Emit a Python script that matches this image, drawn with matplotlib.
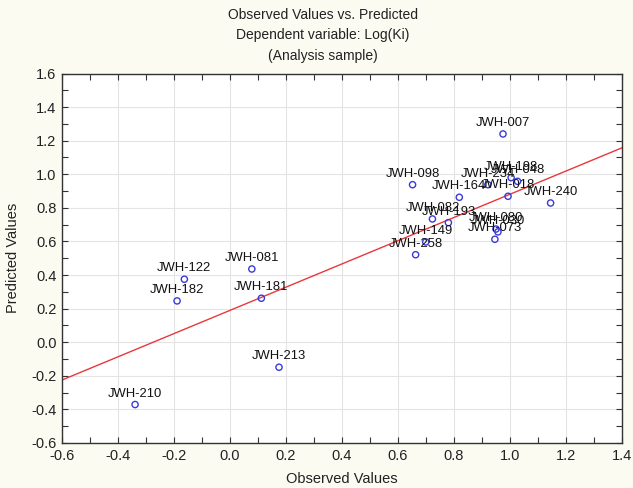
import numpy as np
import matplotlib
matplotlib.use("Agg")
import matplotlib.pyplot as plt
from matplotlib.ticker import MultipleLocator

# Compound labels with observed and predicted log(Ki)
labels = ["JWH-007", "JWH-098", "JWH-164", "JWH-234", "JWH-198", "JWH-048",
          "JWH-018", "JWH-240", "JWH-082", "JWH-193", "JWH-149", "JWH-258",
          "JWH-073", "JWH-080", "JWH-030", "JWH-081", "JWH-122", "JWH-182",
          "JWH-181", "JWH-213", "JWH-210"]
observed = [0.975, 0.652, 0.819, 0.921, 1.004, 1.027,
            0.993, 1.145, 0.723, 0.780, 0.699, 0.663,
            0.946, 0.950, 0.957, 0.078, -0.163, -0.189,
            0.112, 0.175, -0.339]
predicted = [1.240, 0.938, 0.863, 0.938, 0.980, 0.958,
             0.869, 0.829, 0.734, 0.712, 0.597, 0.521,
             0.613, 0.674, 0.657, 0.436, 0.375, 0.246,
             0.262, -0.149, -0.371]

title_lines = ["Observed Values vs. Predicted",
               "Dependent variable: Log(Ki)",
               "(Analysis sample)"]

plt.rcParams["font.family"] = ["Liberation Sans", "DejaVu Sans"]

fig = plt.figure(figsize=(6.33, 4.88), dpi=100, facecolor="#fbfbf1")
ax = fig.add_axes([62 / 633, 1 - 443 / 488, 560 / 633, 369.5 / 488])
ax.set_facecolor("white")

x = np.array(observed)
y = np.array(predicted)

ax.set_xlim(-0.6, 1.4)
ax.set_ylim(-0.6, 1.6)

# least-squares fit line across the full x-range
slope, intercept = np.polyfit(x, y, 1)
xx = np.array(ax.get_xlim())
ax.plot(xx, intercept + slope * xx, color="#e8383c", lw=1.0, zorder=2)

ax.scatter(x, y, s=20, facecolors="none", edgecolors="#3a3ad8", linewidths=1.0, zorder=3)

for lab, xi, yi in zip(labels, x, y):
    ax.annotate(lab, (xi, yi), xytext=(0, 3.5), textcoords="offset points",
                ha="center", va="bottom", fontsize=9.4, color="#111111",
                zorder=4)

ax.xaxis.set_major_locator(MultipleLocator(0.2))
ax.xaxis.set_minor_locator(MultipleLocator(0.1))
ax.yaxis.set_major_locator(MultipleLocator(0.2))
ax.yaxis.set_minor_locator(MultipleLocator(0.1))
ax.xaxis.set_major_formatter(plt.FuncFormatter(lambda v, p: f"{v:.1f}"))
ax.yaxis.set_major_formatter(plt.FuncFormatter(lambda v, p: f"{v:.1f}"))
ax.tick_params(which="both", direction="in", top=True, right=True,
               length=4, width=0.8, color="#333333", labelsize=10.5,
               labelcolor="#222222")
ax.tick_params(which="major", pad=4)

ax.grid(True, which="major", color="#e4e4e4", lw=0.8, zorder=0)
ax.set_axisbelow(True)
for s in ax.spines.values():
    s.set_color("#333333")
    s.set_linewidth(1.0)

ax.set_xlabel("Observed Values", fontsize=10.5, color="#222222", labelpad=7)
ax.set_ylabel("Predicted Values", fontsize=10.5, color="#222222", labelpad=8)

for i, t in enumerate(title_lines):
    fig.text(323 / 633, 1 - (15 + 20.5 * i) / 488, t, ha="center", va="center",
             fontsize=10, color="#222222")

fig.savefig("out.png", dpi=100, facecolor=fig.get_facecolor())
